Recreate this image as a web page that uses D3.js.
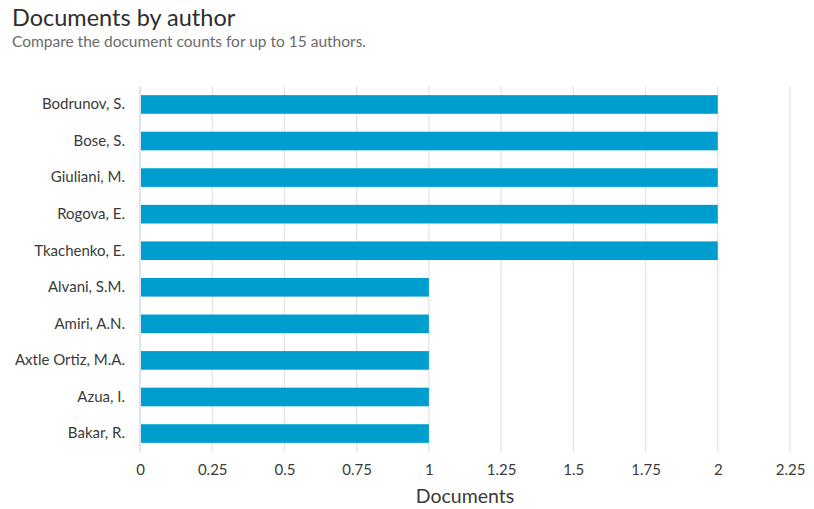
<!DOCTYPE html>
<html>
<head>
<meta charset="utf-8">
<script src="https://cdn.jsdelivr.net/npm/d3@7"></script>
<style>
  body { margin: 0; background: #fff; font-family: "Lato", "Open Sans", sans-serif; }
  svg text { font-family: "Lato", "Open Sans", sans-serif; }
</style>
</head>
<body>
<svg id="chart" width="814" height="509"></svg>
<script>
// data
var authors = ["Bodrunov, S.", "Bose, S.", "Giuliani, M.", "Rogova, E.", "Tkachenko, E.",
               "Alvani, S.M.", "Amiri, A.N.", "Axtle Ortiz, M.A.", "Azua, I.", "Bakar, R."];
var doc_counts = [2, 2, 2, 2, 2, 1, 1, 1, 1, 1];
var x_ticks = [0, 0.25, 0.5, 0.75, 1, 1.25, 1.5, 1.75, 2, 2.25];

(function(){
    var svg = d3.select("#chart");

    // plot area
    var pL = 140, pR = 790, pT = 86, pB = 452;

    var x = d3.scaleLinear().domain([0, 2.25]).range([pL, pR]);
    var y = d3.scaleBand().domain(authors).range([pT, pB]).paddingInner(0.49).paddingOuter(0.25);

    // titles
    svg.append("text").attr("x", 12).attr("y", 26)
	.attr("font-size", 23.5).attr("fill", "#2e2e2e").text("Documents by author");
    svg.append("text").attr("x", 12).attr("y", 47)
	.attr("font-size", 15.5).attr("fill", "#6b6b6b").text("Compare the document counts for up to 15 authors.");

    // gridlines (skip zero, that one is the axis line)
    svg.append("g").selectAll("line").data(x_ticks.filter(function(d){return d > 0;}))
	.enter().append("line")
	.attr("x1", function(d){return x(d);}).attr("x2", function(d){return x(d);})
	.attr("y1", pT).attr("y2", pB)
	.attr("stroke", "#e2e2e2").attr("stroke-width", 1.2);

    svg.append("line")
	.attr("x1", x(0)).attr("x2", x(0)).attr("y1", pT).attr("y2", pB)
	.attr("stroke", "#cfdcec").attr("stroke-width", 1.5);

    // bars
    svg.append("g").selectAll("rect").data(authors)
	.enter().append("rect")
	.attr("x", x(0) + 1)
	.attr("y", function(d){return y(d);})
	.attr("width", function(d, i){return x(doc_counts[i]) - x(0) - 1;})
	.attr("height", y.bandwidth())
	.attr("fill", "#009ecf");

    // y axis labels
    var yAxis = svg.append("g").attr("transform", "translate(" + (pL - 15) + ",0)")
	.call(d3.axisLeft(y).tickSize(0).tickPadding(0));
    yAxis.select(".domain").remove();
    yAxis.selectAll("text").attr("font-size", 15).attr("fill", "#3a3a3a")
	.attr("font-family", "Lato, 'Open Sans', sans-serif");

    // x axis labels
    var xAxis = svg.append("g").attr("transform", "translate(0," + (pB + 12) + ")")
	.call(d3.axisBottom(x).tickValues(x_ticks).tickSize(0).tickPadding(0)
	      .tickFormat(function(d){return String(d);}));
    xAxis.select(".domain").remove();
    xAxis.selectAll("text").attr("font-size", 15).attr("fill", "#3a3a3a")
	.attr("font-family", "Lato, 'Open Sans', sans-serif");

    svg.append("text").attr("x", (pL + pR) / 2).attr("y", 503)
	.attr("text-anchor", "middle").attr("font-size", 19.5).attr("fill", "#3a3a3a")
	.text("Documents");
})();
</script>
</body>
</html>
